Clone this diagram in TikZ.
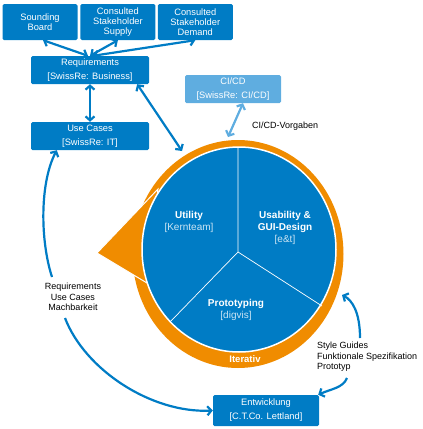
\documentclass[tikz,border=0pt]{standalone}
\usepackage{fontspec}
\setmainfont{Liberation Sans}
\usepackage{xcolor}
\usetikzlibrary{arrows.meta,positioning}

\definecolor{srblue}{RGB}{0,124,197}
\definecolor{srlight}{RGB}{95,173,224}
\definecolor{itorange}{RGB}{240,140,0}

\tikzset{
  box/.style={fill=srblue, rounded corners=1.5pt, text=white, align=center, inner sep=0pt, font=\fontsize{9.3}{10}\selectfont},
  topbox/.style={box, minimum width=75pt, minimum height=36pt},
  rolebox/.style={box, minimum width=118pt, minimum height=28pt, font=\fontsize{9.3}{14}\selectfont},
  link/.style={{Straight Barb[length=4pt,width=9pt]}-{Straight Barb[length=4pt,width=9pt]}, draw=srblue, line width=2.2pt},
  flow/.style={-{Straight Barb[length=4pt,width=9pt]}, draw=srblue, line width=2.2pt},
  note/.style={inner sep=0pt, align=left, font=\fontsize{9}{10.5}\selectfont},
  sector/.style={text=white, align=center, inner sep=0pt, font=\fontsize{10}{12}\selectfont\bfseries},
}

\begin{document}
\begin{tikzpicture}[x=1pt, y=-1pt]
\useasboundingbox (0,0) rectangle (423,429);

% iteration ring
\fill[itorange] (238,254) ellipse [x radius=105.5, y radius=114];
\filldraw[fill=itorange, draw=white, line width=1pt] (97,253) -- (158,189) -- (147,283) -- cycle;
\filldraw[fill=srblue, draw=white, line width=1.5pt] (239,249.5) ellipse [x radius=97, y radius=102.5];
\coordinate (hub) at (238,252);
\draw[white, line width=0.7pt] (238,148) -- (hub) -- (170,322);
\draw[white, line width=0.7pt] (hub) -- (322,306);

\node[sector] (utility) at (189,222) {Utility\\\textcolor{white!80!srblue}{\mdseries [Kernteam]}};
\node[sector] (usability) at (285,228) {Usability \&\\GUI-Design\\\textcolor{white!80!srblue}{\mdseries [e\&t]}};
\node[sector] (proto) at (236,310) {Prototyping\\\textcolor{white!80!srblue}{\mdseries [digvis]}};
\node[sector, font=\fontsize{9.5}{12}\selectfont\bfseries] (iterativ) at (245,359) {Iterativ};

\coordinate (ringTL) at (182,151);
\coordinate (ringT) at (228,137);
\coordinate (ringR) at (342,295);

% boxes
\node[topbox] (sounding) at (40,22) {Sounding\\Board};
\node[topbox, right=2.5pt of sounding] (supply) {Consulted\\Stakeholder\\Supply};
\node[topbox, right=2pt of supply] (demand) {Consulted\\Stakeholder\\Demand};
\node[rolebox] (req) at (90,70) {Requirements\\{[}SwissRe: Business]};
\node[rolebox] (usecases) at (90,136) {Use Cases\\{[}SwissRe: IT]};
\node[rolebox, fill=srlight, minimum width=96pt] (cicd) at (233,89) {CI/CD\\{[}SwissRe: CI/CD]};
\node[rolebox, minimum width=106pt, minimum height=31pt] (entw) at (266,410.5) {Entwicklung\\{[}C.T.Co. Lettland]};

% notes
\node[note, anchor=west] (cicdnote) at (252,126) {CI/CD-Vorgaben};
\node[note, align=center] (reqnote) at (73,297) {Requirements\\Use Cases\\Machbarkeit};
\node[note, anchor=west] (stylenote) at (317,357) {Style Guides\\Funktionale Spezifikation\\Prototyp};

% connectors
\draw[link] ([xshift=3pt]sounding.south) -- ([xshift=-2pt]req.north);
\draw[link] (supply.south) -- (req.north);
\draw[link] (demand.south) -- ([xshift=3pt]req.north);
\draw[link] (req) -- (usecases);
\draw[link] ([xshift=-12pt]req.south east) -- (ringTL);
\draw[link, draw=srlight] ([xshift=10pt]cicd.south) -- (ringT);

\draw[flow] ([shift={(-21,-20)}]reqnote.center) .. controls +(-12,-37) and +(-17,32) .. ([xshift=26pt]usecases.south west);
\draw[flow] ([shift={(-8,21)}]reqnote.center) .. controls +(20,52) and +(-61,3) .. (entw.west);
\draw[flow] ([shift={(43,-19)}]stylenote.west) .. controls +(0,-26) and +(10,5) .. (ringR);
\draw[flow] ([shift={(30,21)}]stylenote.west) .. controls +(-4,10) and +(13,-6) .. ([xshift=-1pt]entw.north east);
\end{tikzpicture}
\end{document}
